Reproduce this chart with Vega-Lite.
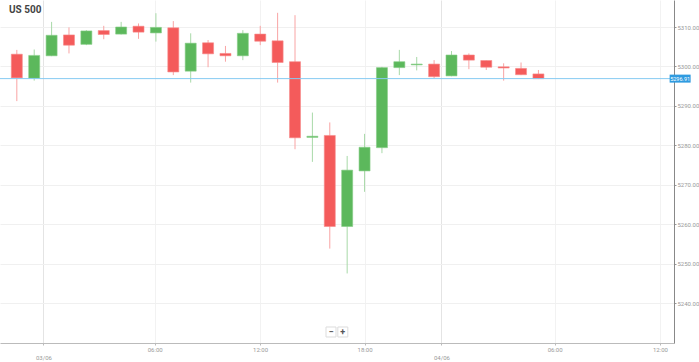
{
  "$schema": "https://vega.github.io/schema/vega-lite/v6.json",
  "autosize": {"type": "none"},
  "padding": {"left": 0, "top": 0, "right": 25, "bottom": 19},
  "width": 674,
  "height": 343,
  "background": "#ffffff",
  "config": {"view": {"stroke": null}, "font": "Roboto"},
  "title": {"text": "US 500", "anchor": "start", "frame": "group", "fontSize": 10, "fontWeight": "bold", "color": "#444444", "dx": 9, "dy": 15, "offset": 0, "font": "Roboto"},
  "data": {"values": [
    {"t": 0, "open": 5303.1, "high": 5304.2, "low": 5291.2, "close": 5297.1},
    {"t": 1, "open": 5297.0, "high": 5304.3, "low": 5296.4, "close": 5302.8},
    {"t": 2, "open": 5302.7, "high": 5311.3, "low": 5302.6, "close": 5307.9},
    {"t": 3, "open": 5308.0, "high": 5309.9, "low": 5303.3, "close": 5305.4},
    {"t": 4, "open": 5305.6, "high": 5309.2, "low": 5305.4, "close": 5309.0},
    {"t": 5, "open": 5309.1, "high": 5310.3, "low": 5306.9, "close": 5308.1},
    {"t": 6, "open": 5308.2, "high": 5311.3, "low": 5308.1, "close": 5310.0},
    {"t": 7, "open": 5310.2, "high": 5310.9, "low": 5307.0, "close": 5308.7},
    {"t": 8, "open": 5308.5, "high": 5313.5, "low": 5306.3, "close": 5309.9},
    {"t": 9, "open": 5309.8, "high": 5311.5, "low": 5297.8, "close": 5298.6},
    {"t": 10, "open": 5298.8, "high": 5308.4, "low": 5295.9, "close": 5305.9},
    {"t": 11, "open": 5306.0, "high": 5306.7, "low": 5299.8, "close": 5303.2},
    {"t": 12, "open": 5303.3, "high": 5305.2, "low": 5301.2, "close": 5302.7},
    {"t": 13, "open": 5302.7, "high": 5309.2, "low": 5301.6, "close": 5308.4},
    {"t": 14, "open": 5308.2, "high": 5310.3, "low": 5305.4, "close": 5306.4},
    {"t": 15, "open": 5306.5, "high": 5313.6, "low": 5295.9, "close": 5301.0},
    {"t": 16, "open": 5301.2, "high": 5313.0, "low": 5279.0, "close": 5281.9},
    {"t": 17, "open": 5282.0, "high": 5288.3, "low": 5275.8, "close": 5282.3},
    {"t": 18, "open": 5282.5, "high": 5285.8, "low": 5253.8, "close": 5259.4},
    {"t": 19, "open": 5259.4, "high": 5277.3, "low": 5247.5, "close": 5273.7},
    {"t": 20, "open": 5273.5, "high": 5282.9, "low": 5268.2, "close": 5279.5},
    {"t": 21, "open": 5279.4, "high": 5299.9, "low": 5278.0, "close": 5299.7},
    {"t": 22, "open": 5299.7, "high": 5304.2, "low": 5297.8, "close": 5301.2},
    {"t": 23, "open": 5300.4, "high": 5302.4, "low": 5299.0, "close": 5300.6},
    {"t": 24, "open": 5300.6, "high": 5301.6, "low": 5297.0, "close": 5297.4},
    {"t": 25, "open": 5297.6, "high": 5303.9, "low": 5297.5, "close": 5302.9},
    {"t": 26, "open": 5302.9, "high": 5303.3, "low": 5299.3, "close": 5301.6},
    {"t": 27, "open": 5301.5, "high": 5301.5, "low": 5299.1, "close": 5299.8},
    {"t": 28, "open": 5299.9, "high": 5300.8, "low": 5296.4, "close": 5299.6},
    {"t": 29, "open": 5299.5, "high": 5301.0, "low": 5297.8, "close": 5297.9},
    {"t": 30, "open": 5298.1, "high": 5299.1, "low": 5296.8, "close": 5296.9}
  ]},
  "layer": [
    {
      "mark": {"type": "rule", "strokeWidth": 1},
      "encoding": {
        "x": {"field": "t", "type": "quantitative",
          "scale": {"domain": [-0.68, 37.51], "nice": false, "zero": false},
          "axis": {"title": null, "values": [1.53, 7.93, 13.99, 20, 24.42, 30.93, 36.99],
            "labelExpr": "datum.value < 2 ? ['', '03/06'] : datum.value < 9 ? '06:00' : datum.value < 15 ? '12:00' : datum.value < 21 ? '18:00' : datum.value < 25 ? ['', '04/06'] : datum.value < 32 ? '06:00' : '12:00'",
            "labelFontSize": 6, "labelColor": "#999999", "labelLineHeight": 8, "labelPadding": 1,
            "tickSize": 2, "tickColor": "#bbbbbb", "domainColor": "#bbbbbb",
            "gridColor": {"condition": {"test": "datum.value < 2 || (datum.value > 24 && datum.value < 25)", "value": "#e4e4e4"}, "value": "#f2f2f2"}}},
        "y": {"field": "low", "type": "quantitative",
          "scale": {"domain": [5229.86, 5316.85], "nice": false, "zero": false},
          "axis": {"title": null, "orient": "right", "values": [5240, 5250, 5260, 5270, 5280, 5290, 5300, 5310], "format": ".2f",
            "labelFontSize": 6, "labelColor": "#999999", "labelPadding": 1, "tickSize": 2, "tickColor": "#999999",
            "domainColor": "#888888", "gridColor": "#f0f0f0"}},
        "y2": {"field": "high"},
        "color": {"condition": {"test": "datum.close >= datum.open", "value": "#a8d9a8"}, "value": "#f9a4a4"}
      }
    },
    {
      "mark": {"type": "bar", "size": 11, "strokeWidth": 0.6},
      "encoding": {
        "x": {"field": "t", "type": "quantitative"},
        "y": {"field": "open", "type": "quantitative"},
        "y2": {"field": "close"},
        "color": {"condition": {"test": "datum.close >= datum.open", "value": "#5cb85c"}, "value": "#f45b5b"},
        "stroke": {"condition": {"test": "datum.close >= datum.open", "value": "#86cc86"}, "value": "#f78a8a"}
      }
    },
    {
      "data": {"values": [{"price": 5296.91}]},
      "layer": [
        {
          "mark": {"type": "rule", "color": "#86cbf2", "strokeWidth": 1},
          "encoding": {"y": {"field": "price", "type": "quantitative"}}
        },
        {
          "mark": {"type": "tick", "orient": "horizontal", "color": "#2f9be0", "size": 21, "thickness": 8, "opacity": 1},
          "encoding": {"x": {"datum": 38.15, "type": "quantitative"}, "y": {"field": "price", "type": "quantitative"}}
        },
        {
          "mark": {"type": "text", "color": "#ffffff", "fontSize": 5.5, "align": "center", "baseline": "middle"},
          "encoding": {"x": {"datum": 38.15, "type": "quantitative"}, "y": {"field": "price", "type": "quantitative"}, "text": {"field": "price", "type": "quantitative", "format": ".2f"}}
        }
      ]
    },
    {
      "data": {"values": [{"btn": "−", "pos": 18.07}, {"btn": "+", "pos": 18.75}]},
      "layer": [
        {
          "mark": {"type": "square", "size": 100, "fill": "#ffffff", "stroke": "#dddddd", "strokeWidth": 1, "opacity": 1},
          "encoding": {"x": {"field": "pos", "type": "quantitative"}, "y": {"datum": 5232.65, "type": "quantitative"}}
        },
        {
          "mark": {"type": "text", "fontSize": 9, "fontWeight": "bold", "color": "#555555", "align": "center", "baseline": "middle"},
          "encoding": {"x": {"field": "pos", "type": "quantitative"}, "y": {"datum": 5232.65, "type": "quantitative"}, "text": {"field": "btn"}}
        }
      ]
    }
  ]
}
